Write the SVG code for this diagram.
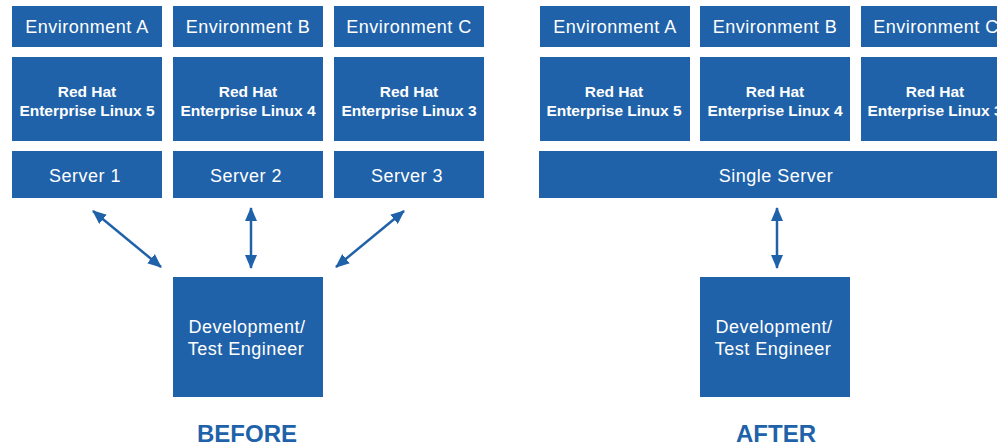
<svg xmlns="http://www.w3.org/2000/svg" width="997" height="447" viewBox="0 0 997 447">
<defs>
<style>
.box{fill:#2062a9}
.t{font-family:"Liberation Sans",Arial,sans-serif;fill:#fff;text-anchor:middle;font-size:18px;letter-spacing:0.5px}
.b{font-family:"Liberation Sans",Arial,sans-serif;fill:#fff;text-anchor:middle;font-size:15.5px;font-weight:bold}
.lbl{font-family:"Liberation Sans",Arial,sans-serif;fill:#2062a9;text-anchor:middle;font-size:24px;font-weight:bold}
.con{stroke:#2062a9;stroke-width:2.5;fill:none;marker-start:url(#ah);marker-end:url(#ah)}
</style>
<marker id="ah" viewBox="0 0 14 12" refX="13" refY="6" markerWidth="14" markerHeight="12" markerUnits="userSpaceOnUse" orient="auto-start-reverse">
<path d="M0,0 L14,6 L0,12 z" fill="#2062a9"/>
</marker>
</defs>
<rect width="997" height="447" fill="#fff"/>
<g id="before-envA"><rect class="box" x="12" y="6" width="150" height="41"/><text class="t" x="87" y="33">Environment A</text></g>
<g id="before-envB"><rect class="box" x="173" y="6" width="150" height="41"/><text class="t" x="248" y="33">Environment B</text></g>
<g id="before-envC"><rect class="box" x="334" y="6" width="150" height="41"/><text class="t" x="409" y="33">Environment C</text></g>
<g id="before-rhel5"><rect class="box" x="12" y="57" width="150" height="84"/><text class="b" x="87" y="97">Red Hat</text><text class="b" x="87" y="116">Enterprise Linux 5</text></g>
<g id="before-rhel4"><rect class="box" x="173" y="57" width="150" height="84"/><text class="b" x="248" y="97">Red Hat</text><text class="b" x="248" y="116">Enterprise Linux 4</text></g>
<g id="before-rhel3"><rect class="box" x="334" y="57" width="150" height="84"/><text class="b" x="409" y="97">Red Hat</text><text class="b" x="409" y="116">Enterprise Linux 3</text></g>
<g id="server1"><rect class="box" x="12" y="151" width="150" height="47"/><text class="t" x="85" y="182">Server 1</text></g>
<g id="server2"><rect class="box" x="173" y="151" width="150" height="47"/><text class="t" x="246" y="182">Server 2</text></g>
<g id="server3"><rect class="box" x="334" y="151" width="150" height="47"/><text class="t" x="407" y="182">Server 3</text></g>
<g id="before-dev"><rect class="box" x="173" y="277" width="150" height="120"/><text class="t" x="247" y="333">Development/</text><text class="t" x="246" y="355">Test Engineer</text></g>
<g id="before-label"><text class="lbl" x="247" y="442">BEFORE</text></g>

<g id="after-envA"><rect class="box" x="540" y="6" width="150" height="41"/><text class="t" x="615" y="33">Environment A</text></g>
<g id="after-envB"><rect class="box" x="700" y="6" width="150" height="41"/><text class="t" x="775" y="33">Environment B</text></g>
<g id="after-envC"><rect class="box" x="861" y="6" width="150" height="41"/><text class="t" x="936" y="33">Environment C</text></g>
<g id="after-rhel5"><rect class="box" x="540" y="57" width="150" height="84"/><text class="b" x="614" y="97">Red Hat</text><text class="b" x="614" y="116">Enterprise Linux 5</text></g>
<g id="after-rhel4"><rect class="box" x="700" y="57" width="150" height="84"/><text class="b" x="775" y="97">Red Hat</text><text class="b" x="775" y="116">Enterprise Linux 4</text></g>
<g id="after-rhel3"><rect class="box" x="861" y="57" width="150" height="84"/><text class="b" x="935" y="97">Red Hat</text><text class="b" x="935" y="116">Enterprise Linux 3</text></g>
<g id="single-server"><rect class="box" x="539" y="151" width="458" height="47"/><text class="t" x="776" y="182">Single Server</text></g>
<g id="after-dev"><rect class="box" x="700" y="277" width="150" height="120"/><text class="t" x="774" y="333">Development/</text><text class="t" x="773" y="355">Test Engineer</text></g>
<g id="after-label"><text class="lbl" x="776" y="442">AFTER</text></g>

<g id="connectors">
<line class="con" x1="93" y1="211" x2="161" y2="267"/>
<line class="con" x1="251" y1="208" x2="251" y2="268"/>
<line class="con" x1="404" y1="211" x2="336" y2="267"/>
<line class="con" x1="777" y1="208" x2="777" y2="268"/>
</g>
</svg>
